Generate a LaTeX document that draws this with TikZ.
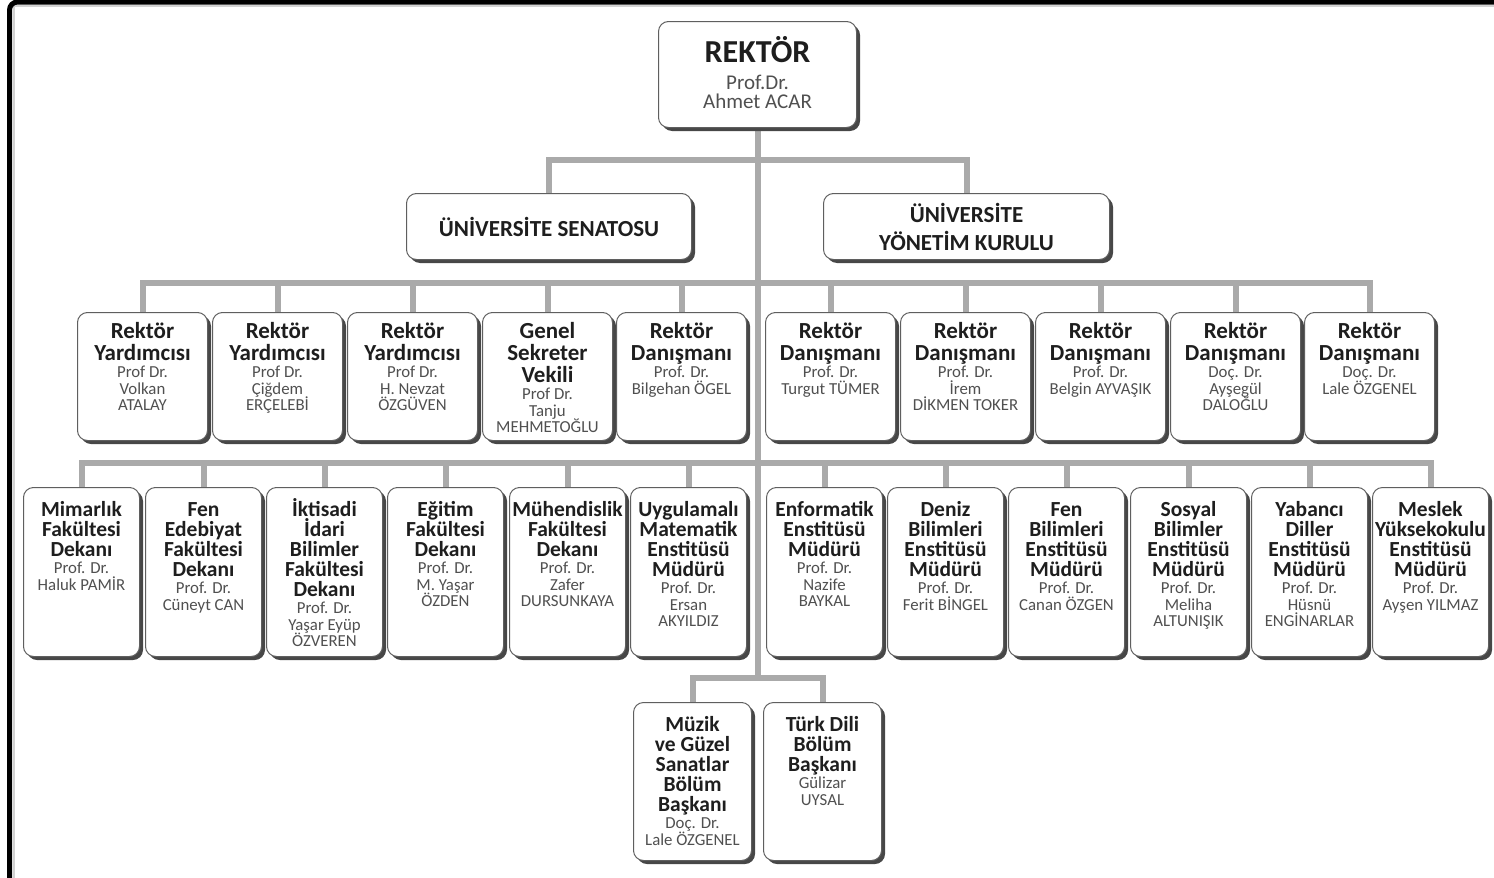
\documentclass[tikz,border=0pt]{standalone}
\usepackage{fontspec}
\setmainfont{Carlito}
\usetikzlibrary{shadows,backgrounds}
\definecolor{ln}{RGB}{170,170,170}
\definecolor{tcol}{RGB}{30,30,30}
\definecolor{scol}{RGB}{80,80,80}
\definecolor{bcol}{RGB}{95,95,95}
\newcommand\ttlA[1]{{\fontsize{23}{22}\selectfont\bfseries\color{tcol}#1\par}}
\newcommand\subA[1]{{\fontsize{16.8}{16.8}\selectfont\color{scol}#1\par}}
\newcommand\ttlB[1]{{\fontsize{21.5}{20}\selectfont\bfseries\color{tcol}#1\par}}
\newcommand\subB[1]{{\fontsize{16.8}{16.8}\selectfont\color{scol}#1\par}}
\newcommand\orgbox[6]{\node[obox, anchor=north west] (#1) at (#2,#3) {\parbox[c][#5pt][t]{#4pt}{\centering #6}};}
\newcommand\rA{\rule{0pt}{26pt}}
\newcommand\rB{\rule{0pt}{29pt}}
\tikzset{
  obox/.style={draw=bcol, line width=1pt, rounded corners=10pt, fill=white, inner sep=0pt,
    drop shadow={shadow xshift=3.5pt, shadow yshift=-3.5pt, fill=black!72, opacity=1}},
  conn/.style={draw=ln, line width=6pt},
  frame/.style={line width=5pt, draw=black, rounded corners=8pt}
}
\begin{document}
\begin{tikzpicture}[x=1pt,y=-1pt]
\path[use as bounding box] (0,0) rectangle (1494,878);
\clip (0,0) rectangle (1494,878);
% frame
\draw[gray!35, line width=2.5pt] (13.8,890) -- (13.8,5.8) -- (1500,5.8);
\draw[frame] (9.5,890) -- (9.5,2) -- (1500,2);

% coordinates of buses
\coordinate (bus1) at (757,160);
\coordinate (bus2) at (757,283);
\coordinate (bus3) at (757,463);
\coordinate (bus4) at (757,678);

% ---------- boxes ----------
\orgbox{rek}{658}{21}{198}{106}{{\fontsize{32}{30}\selectfont\bfseries\color{tcol}\rule{0pt}{41pt}REKTÖR\par}\vspace{7pt}{\fontsize{21}{19.5}\selectfont\color{scol}Prof.Dr.\\Ahmet ACAR\par}}

\node[obox, anchor=north west, minimum width=285pt, minimum height=66pt,
  font=\fontsize{23}{28}\selectfont\bfseries, text=tcol, align=center] (sen) at (406,193) {ÜNİVERSİTE SENATOSU};
\node[obox, anchor=north west, minimum width=286pt, minimum height=66pt,
  font=\fontsize{23}{28}\selectfont\bfseries, text=tcol, align=center] (yon) at (823,193) {ÜNİVERSİTE\\YÖNETİM KURULU};

% row 2
\orgbox{r2a}{77}{312}{130}{128}{\ttlA{\rA Rektör\\Yardımcısı}\subA{Prof Dr.\\Volkan\\ATALAY}}
\orgbox{r2b}{212}{312}{130}{128}{\ttlA{\rA Rektör\\Yardımcısı}\subA{Prof Dr.\\Çiğdem\\ERÇELEBİ}}
\orgbox{r2c}{347}{312}{130}{128}{\ttlA{\rA Rektör\\Yardımcısı}\subA{Prof Dr.\\H. Nevzat\\ÖZGÜVEN}}
\orgbox{r2d}{482}{312}{130}{128}{\ttlA{\rA Genel\\Sekreter\\Vekili}\subA{Prof Dr.\\Tanju\\MEHMETOĞLU}}
\orgbox{r2e}{616}{312}{130}{128}{\ttlA{\rA Rektör\\Danışmanı}\subA{Prof. Dr.\\Bilgehan ÖGEL}}
\orgbox{r2f}{765}{312}{130}{128}{\ttlA{\rA Rektör\\Danışmanı}\subA{Prof. Dr.\\Turgut TÜMER}}
\orgbox{r2g}{900}{312}{130}{128}{\ttlA{\rA Rektör\\Danışmanı}\subA{Prof. Dr.\\İrem\\DİKMEN TOKER}}
\orgbox{r2h}{1035}{312}{130}{128}{\ttlA{\rA Rektör\\Danışmanı}\subA{Prof. Dr.\\Belgin AYVAŞIK}}
\orgbox{r2i}{1170}{312}{130}{128}{\ttlA{\rA Rektör\\Danışmanı}\subA{Doç. Dr.\\Ayşegül\\DALOĞLU}}
\orgbox{r2j}{1304}{312}{130}{128}{\ttlA{\rA Rektör\\Danışmanı}\subA{Doç. Dr.\\Lale ÖZGENEL}}

% row 3
\orgbox{r3a}{23}{487}{116}{169}{\ttlB{\rB Mimarlık\\Fakültesi\\Dekanı}\subB{Prof. Dr.\\Haluk PAMİR}}
\orgbox{r3b}{145}{487}{116}{169}{\ttlB{\rB Fen\\Edebiyat\\Fakültesi\\Dekanı}\subB{Prof. Dr.\\Cüneyt CAN}}
\orgbox{r3c}{266}{487}{116}{169}{\ttlB{\rB İktisadi\\İdari\\Bilimler\\Fakültesi\\Dekanı}\subB{Prof. Dr.\\Yaşar Eyüp\\ÖZVEREN}}
\orgbox{r3d}{387}{487}{116}{169}{\ttlB{\rB Eğitim\\Fakültesi\\Dekanı}\subB{Prof. Dr.\\M. Yaşar\\ÖZDEN}}
\orgbox{r3e}{509}{487}{116}{169}{\ttlB{\rB Mühendislik\\Fakültesi\\Dekanı}\subB{Prof. Dr.\\Zafer\\DURSUNKAYA}}
\orgbox{r3f}{630}{487}{116}{169}{\ttlB{\rB Uygulamalı\\Matematik\\Enstitüsü\\Müdürü}\subB{Prof. Dr.\\Ersan\\AKYILDIZ}}
\orgbox{r3g}{766}{487}{116}{169}{\ttlB{\rB Enformatik\\Enstitüsü\\Müdürü}\subB{Prof. Dr.\\Nazife\\BAYKAL}}
\orgbox{r3h}{887}{487}{116}{169}{\ttlB{\rB Deniz\\Bilimleri\\Enstitüsü\\Müdürü}\subB{Prof. Dr.\\Ferit BİNGEL}}
\orgbox{r3i}{1008}{487}{116}{169}{\ttlB{\rB Fen\\Bilimleri\\Enstitüsü\\Müdürü}\subB{Prof. Dr.\\Canan ÖZGEN}}
\orgbox{r3j}{1130}{487}{116}{169}{\ttlB{\rB Sosyal\\Bilimler\\Enstitüsü\\Müdürü}\subB{Prof. Dr.\\Meliha\\ALTUNIŞIK}}
\orgbox{r3k}{1251}{487}{116}{169}{\ttlB{\rB Yabancı\\Diller\\Enstitüsü\\Müdürü}\subB{Prof. Dr.\\Hüsnü\\ENGİNARLAR}}
\orgbox{r3l}{1372}{487}{116}{169}{\ttlB{\rB Meslek\\Yüksekokulu\\Enstitüsü\\Müdürü}\subB{Prof. Dr.\\Ayşen YILMAZ}}

% bottom
\orgbox{muz}{633}{702}{118}{158}{\ttlB{\rB Müzik\\ve Güzel\\Sanatlar\\Bölüm\\Başkanı}\subB{Doç. Dr.\\Lale ÖZGENEL}}
\orgbox{turk}{763}{702}{118}{158}{\ttlB{\rB Türk Dili\\Bölüm\\Başkanı}\subB{Gülizar\\UYSAL}}

% ---------- connectors (behind boxes) ----------
\begin{pgfonlayer}{background}
\draw[conn] (rek.south) -- (rek.south |- bus4);
\draw[conn] (sen.north) |- (bus1) -| (yon.north);
\draw[conn] (r2a.north) |- (bus2) -| (r2j.north);
\foreach \n in {r2b,r2c,r2d,r2e,r2f,r2g,r2h,r2i}
  \draw[conn] (\n.north) -- (\n.north |- bus2);
\draw[conn] (r3a.north) |- (bus3) -| (r3l.north);
\foreach \n in {r3b,r3c,r3d,r3e,r3f,r3g,r3h,r3i,r3j,r3k}
  \draw[conn] (\n.north) -- (\n.north |- bus3);
\draw[conn] (muz.north) |- (bus4) -| (turk.north);
\end{pgfonlayer}
\end{tikzpicture}
\end{document}
